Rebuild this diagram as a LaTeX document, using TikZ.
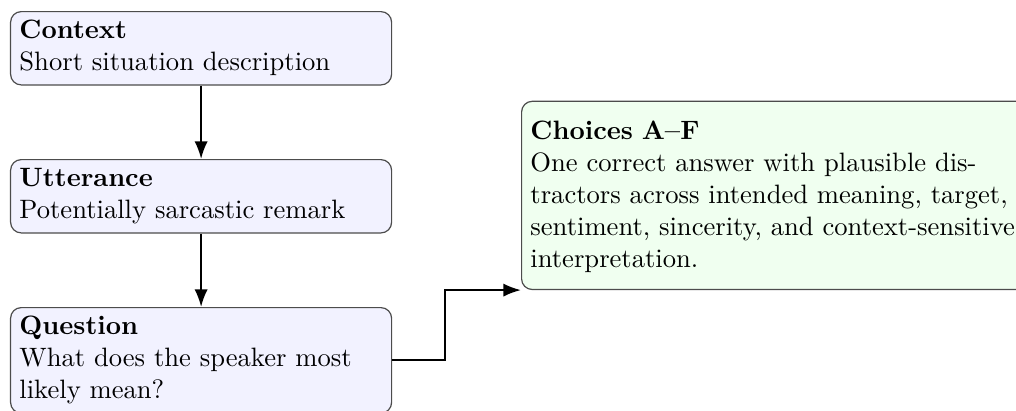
\documentclass[tikz,border=0pt]{standalone}
\usetikzlibrary{arrows.meta}
\begin{document}
\begin{tikzpicture}[x=0.376pt,y=-0.376pt,
  box/.style={draw=black!70, rounded corners=4pt, line width=0.45pt, align=left,
    inner xsep=3.33pt, inner ysep=3.33pt, anchor=north west},
  leftbox/.style={box, fill=blue!5, text width=136.6pt},
  rightbox/.style={box, fill=green!6, text width=195pt, text height=11.2pt, text depth=52.9pt},
  arr/.style={-{Latex}, line width=0.8pt}]
\useasboundingbox (0,0) rectangle (1016,410);
\clip (0,0) rectangle (1016,410);
\node[leftbox] (context) at (10,11) {\textbf{Context}\\Short situation description};
\node[leftbox] (utt) at (10,159) {\textbf{Utterance}\\Potentially sarcastic remark};
\node[leftbox] (q) at (10,307) {\textbf{Question}\\What does the speaker most likely mean?};
\node[rightbox] (choices) at (521,100.7) {\textbf{Choices A--F}\\One correct answer with plausible dis-\\tractors across intended meaning, target,\\sentiment, sincerity, and context-sensitive\\interpretation.};
\draw[arr] (context) -- (utt);
\draw[arr] (utt) -- (q);
\draw[arr] (q.east) -- ++(53,0) |- (choices.south west);
\end{tikzpicture}
\end{document}
